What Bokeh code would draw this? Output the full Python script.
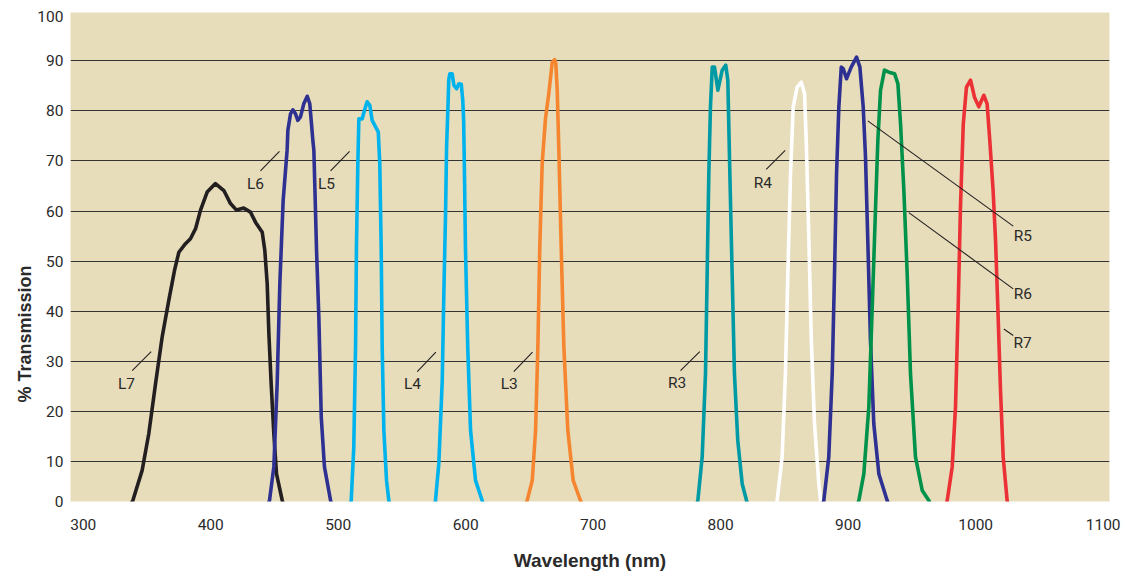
from bokeh.plotting import figure
from bokeh.models import FixedTicker, Range1d, Title
from bokeh.core.properties import value
from bokeh.embed import file_html
from bokeh.resources import INLINE

# ---- data (wavelength nm, % transmission) ----
L7_x = [334, 338.9, 346.2, 351.4, 356.7, 361.9, 367.1, 371.6, 375.0, 380.2, 384.1, 388.1, 392.0, 397.2, 403.7,
        410.3, 415.5, 420.2, 425.9, 431.2, 435.1, 440.4, 442.4, 444.3, 445.6, 447.4, 449.5, 451.6, 456.1, 459]
L7_y = [0, 2.3, 8.3, 15.6, 25.6, 34.9, 42.2, 48.2, 51.8, 53.5, 54.5, 56.5, 60.2, 63.8, 65.5,
        64.1, 61.5, 60.2, 60.6, 59.8, 57.8, 55.8, 52.2, 45.5, 35.6, 25.6, 15.6, 7.6, 2.3, 0]

L6_x = [443, 446.1, 449.5, 452.1, 454.2, 456.8, 459.9, 460.5, 462.6, 464.4, 466.5, 468.3, 470.4, 473.0, 475.7,
        477.7, 478.8, 480.1, 480.9, 483.0, 484.8, 486.7, 489.2, 494.0, 497]
L6_y = [0, 2.3, 9.0, 25.6, 45.5, 62.1, 72.1, 76.1, 79.4, 80.2, 79.4, 78.1, 78.8, 81.4, 82.9,
        81.4, 78.1, 74.1, 72.1, 52.2, 38.9, 18.9, 9.0, 2.3, 0]

L5_x = [508, 510.2, 512.2, 513.6, 514.3, 515.4, 516.2, 518.8, 520.6, 522.7, 524.8, 526.6, 529.3, 531.4, 532.6,
        533.7, 534.5, 535.8, 537.9, 539.7, 542]
L5_y = [0, 2.3, 12.9, 32.9, 52.8, 69.5, 78.4, 78.4, 80.1, 81.8, 81.1, 78.1, 76.8, 75.8, 69.5,
        52.8, 32.9, 16.3, 6.3, 2.3, 0]

L4_x = [573, 576.3, 578.9, 581.6, 582.8, 584.2, 585.0, 586.0, 586.7, 587.5, 589.4, 590.7, 592.8, 594.6, 596.5,
        597.7, 598.4, 599.0, 599.8, 601.6, 603.8, 607.7, 612.9, 616]
L4_y = [0, 2.3, 9.6, 26.2, 42.9, 59.5, 72.8, 80.1, 86.1, 87.4, 87.4, 85.1, 84.4, 85.4, 85.3,
        82.1, 78.0, 68.0, 52.8, 32.9, 16.3, 6.3, 2.3, 0]

L3_x = [645, 648.2, 652.2, 654.8, 656.6, 658.1, 660.0, 662.6, 665.2, 667.9, 669.7, 670.7, 671.8, 673.0, 674.9,
        677.0, 680.1, 684.3, 690.0, 694]
L3_y = [0, 2.3, 6.3, 16.3, 32.9, 52.8, 69.5, 78.5, 83.5, 89.7, 90.2, 89.4, 84.0, 72.8, 52.8,
        32.9, 16.3, 6.3, 2.3, 0]

R3_x = [779, 782.1, 785.5, 788.1, 789.4, 790.7, 792.0, 793.4, 795.2, 797.8, 801.2, 804.0, 805.6, 807.2, 809.0,
        810.8, 813.4, 816.9, 820.3, 823]
R3_y = [0, 2.3, 11.0, 27.6, 47.5, 67.5, 80.8, 88.7, 88.7, 84.1, 88.1, 89.1, 86.1, 67.5, 47.5,
        27.6, 14.3, 5.6, 2.3, 0]

R4_x = [841, 844.3, 848.2, 850.8, 852.7, 854.8, 856.9, 860.0, 863.2, 865.8, 867.1, 869.2, 871.1, 873.6, 877.0,
        878.3, 881]
R4_y = [0, 2.3, 11.0, 27.6, 47.5, 67.5, 80.8, 84.7, 85.7, 83.4, 74.1, 54.2, 34.2, 17.6, 5.6,
        2.3, 0]

R5_x = [878, 880.9, 884.8, 887.5, 889.3, 890.9, 892.7, 894.6, 896.1, 898.7, 902.4, 906.6, 909.2, 911.8, 913.6,
        915.4, 917.5, 920.1, 924.1, 930.6, 934]
R5_y = [0, 2.3, 11.0, 27.6, 47.5, 67.5, 80.8, 88.7, 88.4, 86.4, 88.7, 90.7, 88.7, 80.8, 70.8,
        54.2, 34.2, 17.6, 7.6, 2.3, 0]

R6_x = [905, 908.4, 912.3, 916.2, 918.9, 921.5, 923.3, 925.4, 928.5, 931.9, 936.4, 939.0, 941.1, 943.7, 946.3,
        948.9, 952.8, 958.1, 963.3, 967]
R6_y = [0, 2.3, 7.6, 20.9, 40.9, 60.8, 74.1, 84.1, 88.1, 87.7, 87.4, 85.4, 77.4, 64.1, 47.5,
        27.6, 11.0, 4.3, 2.3, 0]

R7_x = [975, 977.7, 981.6, 984.2, 986.3, 988.1, 990.3, 992.8, 996.0, 999.1, 1002.5, 1006.4, 1009.0, 1011.1, 1013.7,
        1015.6, 1017.4, 1019.5, 1021.6, 1024.7, 1027]
R7_y = [0, 2.3, 9.0, 20.9, 40.9, 60.8, 77.4, 84.7, 86.1, 82.7, 80.8, 83.1, 81.4, 74.1, 64.1,
        54.2, 40.9, 24.3, 11.0, 2.3, 0]

series_names = ["L7", "L6", "L5", "L4", "L3", "R3", "R4", "R5", "R6", "R7"]
series_x = [L7_x, L6_x, L5_x, L4_x, L3_x, R3_x, R4_x, R5_x, R6_x, R7_x]
series_y = [L7_y, L6_y, L5_y, L4_y, L3_y, R3_y, R4_y, R5_y, R6_y, R7_y]

x_ticks = [300, 400, 500, 600, 700, 800, 900, 1000, 1100]
y_ticks = [0, 10, 20, 30, 40, 50, 60, 70, 80, 90, 100]

# ---- styling ----
colors = {"L7": "#231f20", "L6": "#2e3192", "L5": "#00b3ec", "L4": "#00b3ec", "L3": "#f5862f",
          "R3": "#009aa5", "R4": "#ffffff", "R5": "#2e3192", "R6": "#00924a", "R7": "#ec3136"}

# label anchors (annotation positions, data coords)
lab_text = ["L7", "L6", "L5", "L4", "L3", "R3", "R4", "R5", "R6", "R7"]
lab_x = [333.9, 435.1, 490.8, 558.3, 634.1, 765.9, 833.1, 1037.0, 1037.0, 1036.8]
lab_y = [25.6, 65.5, 65.5, 25.6, 25.6, 25.7, 65.6, 55.0, 43.4, 33.7]
lead_x0 = [338.4, 439.0, 494.0, 562.0, 637.7, 768.5, 835.7, 915.4, 947.6, 1022.1]
lead_y0 = [28.2, 68.0, 68.0, 28.0, 28.0, 28.2, 68.3, 78.0, 59.7, 36.5]
lead_x1 = [353.3, 453.9, 508.9, 576.6, 652.4, 783.6, 850.6, 1029.5, 1029.5, 1029.5]
lead_y1 = [32.0, 71.9, 71.9, 31.9, 31.9, 32.0, 72.1, 57.0, 44.5, 35.2]

FONT = "Roboto"
BOLD = "'Liberation Sans', Arial, sans-serif"
TXT = "#2a2a2a"

Y_LO, Y_HI = 2.1, 99.6

p = figure(width=1128, height=575, output_backend="svg", toolbar_location=None,
           x_range=Range1d(290, 1105), y_range=Range1d(Y_LO, Y_HI),
           min_border_left=70, min_border_right=19, min_border_top=12, min_border_bottom=74)
p.background_fill_color = "#e7ddbb"
p.border_fill_color = "white"
p.outline_line_color = None

# axes
p.xaxis.ticker = FixedTicker(ticks=x_ticks)
yt = [Y_LO + 0.05] + y_ticks[1:-1] + [98.9]
p.yaxis.ticker = FixedTicker(ticks=yt)
p.yaxis.major_label_overrides = {yt[0]: str(y_ticks[0]), yt[-1]: str(y_ticks[-1])}
for ax in (p.xaxis[0], p.yaxis[0]):
    ax.axis_line_color = None
    ax.major_tick_line_color = None
    ax.minor_tick_line_color = None
    ax.major_tick_in = 0
    ax.major_tick_out = 0
    ax.major_label_text_font = FONT
    ax.major_label_text_font_size = "15.5px"
    ax.major_label_text_color = TXT
p.xaxis.major_label_standoff = 17
p.yaxis.major_label_standoff = 7

p.xaxis.axis_label = "Wavelength (nm)"
p.xaxis.axis_label_text_font = BOLD
p.xaxis.axis_label_text_font_style = "bold"
p.xaxis.axis_label_text_font_size = "19px"
p.xaxis.axis_label_text_color = TXT
p.xaxis.axis_label_standoff = 17

# y-axis title as a side title, positioned along the left edge
ytitle = Title(text="% Transmission", align="left", offset=99, standoff=0,
               text_font=BOLD, text_font_style="bold", text_font_size="18px", text_color=TXT)
p.add_layout(ytitle, "left")

# grid
p.xgrid.grid_line_color = None
p.ygrid.ticker = FixedTicker(ticks=y_ticks[1:-1])
p.ygrid.grid_line_color = "#333333"
p.ygrid.grid_line_width = 1.2

# curves
for name, xs, ys in zip(series_names, series_x, series_y):
    p.line(xs, ys, line_color=colors[name], line_width=3.6, line_join="round", line_cap="round")

# leader lines and labels
p.segment(x0=lead_x0, y0=lead_y0, x1=lead_x1, y1=lead_y1, line_color="#231f20", line_width=1.1)
p.text(x=lab_x, y=lab_y, text=lab_text, text_font=value(FONT), text_font_size="15.5px",
       text_color=TXT, text_align="center", text_baseline="middle")

open("out.html", "w").write(file_html(p, INLINE))
